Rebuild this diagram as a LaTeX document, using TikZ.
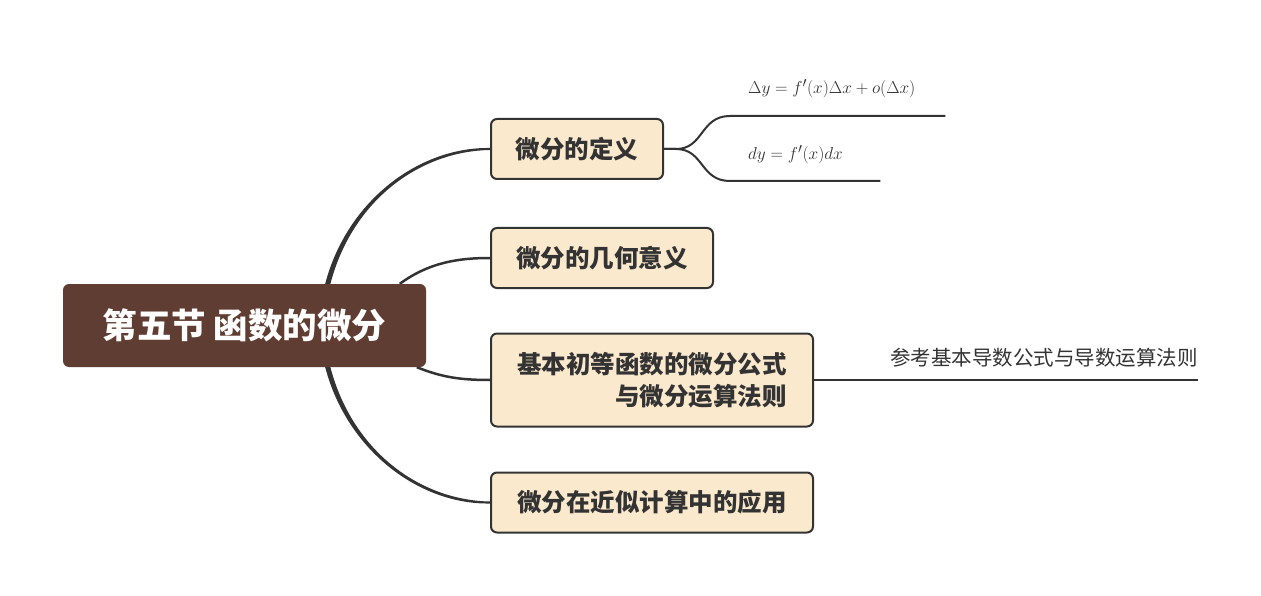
\documentclass[tikz,border=0pt]{standalone}
\usepackage{fontspec}
\setmainfont{Liberation Sans}
\newfontfamily\cjk{Noto Sans CJK SC}
\usetikzlibrary{calc}
\pgfdeclarelayer{bg}
\pgfsetlayers{bg,main}
\definecolor{rootbrown}{RGB}{96,61,50}
\definecolor{boxfill}{RGB}{250,233,205}
\definecolor{ink}{RGB}{51,51,51}
\begin{document}
\begin{tikzpicture}[x=1pt,y=-1pt,
  rootbox/.style={fill=rootbrown, rounded corners=6pt, minimum width=363pt, minimum height=83pt, inner sep=0pt, font=\cjk\bfseries\fontsize{34.5}{40}\selectfont, text=white},
  topic/.style={draw=ink, line width=2pt, fill=boxfill, rounded corners=6pt, inner sep=0pt, minimum height=60pt, font=\cjk\bfseries\fontsize{24.5}{32}\selectfont, text=ink},
  leaf/.style={inner sep=0pt, anchor=south west, align=left, text=ink},
  branch/.style={fill=ink},
  thinbranch/.style={draw=ink, line width=2.5pt},
  link/.style={draw=ink, line width=2pt, line join=round}
]
\useasboundingbox (0,0) rectangle (1261,596);

\node[rootbox] (root) at (244.5,325.5) {第五节 函数的微分};

\node[topic, minimum width=172pt] (c1) at (577,149) {微分的定义};
\node[topic, minimum width=222pt] (c2) at (602,258) {微分的几何意义};
\node[topic, minimum width=322pt, minimum height=93pt, align=right] (c3) at (652,380) {基本初等函数的微分公式\\与微分运算法则};
\node[topic, minimum width=322pt] (c4) at (652,502.5) {微分在近似计算中的应用};

\node[leaf, text width=215pt, minimum height=54pt] (f1) at (730,116) {\hspace*{18pt}\fontsize{19}{21}\selectfont$\Delta y=f'(x)\Delta x+o(\Delta x)$};
\node[leaf, text width=150pt, minimum height=52pt] (f2) at (730,181) {\hspace*{18pt}\fontsize{19}{21}\selectfont$dy=f'(x)dx$};
\node[leaf, text width=320pt, minimum height=44pt, font=\cjk\fontsize{20.5}{24}\selectfont] (f3) at (878,380) {\hspace*{12pt}参考基本导数公式与导数运算法则};

\coordinate (s1) at ([xshift=265pt]root.north west);
\coordinate (s2) at ([xshift=337pt]root.north west);
\coordinate (s3) at ([xshift=354pt]root.south west);
\coordinate (s4) at ([xshift=265pt]root.south west);

\begin{pgfonlayer}{bg}
\fill[white] (0,0) rectangle (1261,596);
\fill[branch] ([shift={(-2.6,0)}]s1) .. controls ([shift={(19.4,-84)}]s1) and ([shift={(-70,-2.2)}]c1.west) .. ([shift={(0,-1)}]c1.west)
  -- ([shift={(0,1)}]c1.west) .. controls ([shift={(-70,2.2)}]c1.west) and ([shift={(24.6,-84)}]s1) .. ([shift={(2.6,0)}]s1) -- cycle;
\fill[branch] ([shift={(-2.6,0)}]s4) .. controls ([shift={(19.4,84)}]s4) and ([shift={(-70,2.2)}]c4.west) .. ([shift={(0,1)}]c4.west)
  -- ([shift={(0,-1)}]c4.west) .. controls ([shift={(-70,-2.2)}]c4.west) and ([shift={(24.6,84)}]s4) .. ([shift={(2.6,0)}]s4) -- cycle;
\draw[thinbranch] (s2) .. controls +(30,-22) and +(-30,0) .. (c2.west);
\draw[thinbranch] (s3) .. controls +(25,10) and +(-30,0) .. (c3.west);
\end{pgfonlayer}

\draw[link] (c1.east) -- ++(12,0) .. controls +(28,0) and +(-30,0) .. (f1.south west) -- (f1.south east);
\draw[link] (c1.east) -- ++(12,0) .. controls +(28,0) and +(-30,0) .. (f2.south west) -- (f2.south east);
\draw[link] (c3.east) -- (f3.south west) -- (f3.south east);
\end{tikzpicture}
\end{document}
